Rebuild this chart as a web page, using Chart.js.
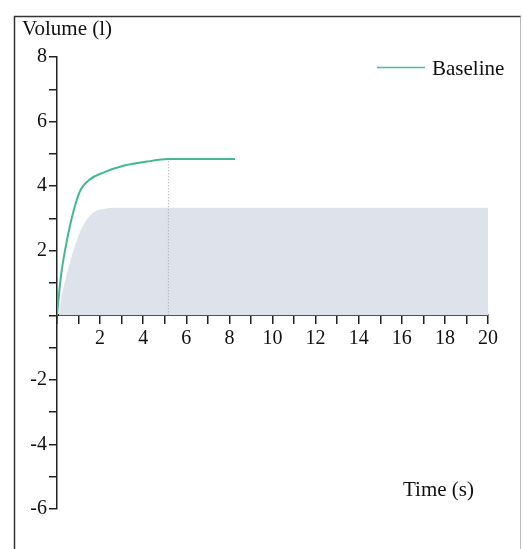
<!DOCTYPE html>
<html>
<head>
<meta charset="utf-8">
<script src="https://cdn.jsdelivr.net/npm/chart.js@4.4.1/dist/chart.umd.min.js"></script>
<style>
  html, body { margin: 0; padding: 0; background: #fff; }
  #wrap { width: 523px; height: 549px; }
</style>
</head>
<body>
<div id="wrap"><canvas id="myChart" width="523" height="549"></canvas></div>
<script>
// Baseline volume curve
const baselineTime = [0, 0.1, 0.2, 0.37, 0.68, 1.07, 1.53, 2.15, 3.08, 4.16, 5.17, 6.5, 8.26];
const baselineVolume = [0, 0.7, 1.3, 2.0, 3.0, 3.85, 4.21, 4.42, 4.63, 4.76, 4.84, 4.84, 4.84];

// Shaded band
const bandTime = [0, 0.08, 0.2, 0.37, 0.76, 1.15, 1.69, 2.3, 2.8, 20];
const bandVolume = [0, 0, 0.55, 1.05, 2.0, 2.7, 3.18, 3.31, 3.33, 3.33];

// Dotted marker where the curve levels off
const markerTime = [5.17, 5.17];
const markerVolume = [0, 4.84];

const xTicks = [2, 4, 6, 8, 10, 12, 14, 16, 18, 20];
const yTicks = [-6, -4, -2, 2, 4, 6, 8];

const serif = "'Liberation Serif', 'DejaVu Serif', serif";

function toPoints(xs, ys) {
  let pts = [];
  for (let i = 0; i < xs.length; i++) {
    pts.push({ x: xs[i], y: ys[i] });
  }
  return pts;
}

// frame, titles and legend
const extras = {
  id: "extras",
  afterDraw(chart) {
    const ctx = chart.ctx;
    ctx.save();
    ctx.strokeStyle = "#333";
    ctx.lineWidth = 1.5;
    ctx.beginPath();
    ctx.moveTo(14.5, 549);
    ctx.lineTo(14.5, 16.5);
    ctx.lineTo(521, 16.5);
    ctx.stroke();
    ctx.strokeStyle = "#bbb";
    ctx.lineWidth = 1;
    ctx.beginPath();
    ctx.moveTo(520.5, 16.5);
    ctx.lineTo(520.5, 549);
    ctx.stroke();

    ctx.fillStyle = "#111";
    ctx.font = "21px " + serif;
    ctx.textBaseline = "alphabetic";
    ctx.textAlign = "left";
    ctx.fillText("Volume (l)", 22, 35);
    ctx.fillText("Time (s)", 403, 496);
    ctx.fillText("Baseline", 432, 75);

    ctx.strokeStyle = "#45bfa6";
    ctx.lineWidth = 1.5;
    ctx.beginPath();
    ctx.moveTo(377, 67.5);
    ctx.lineTo(425, 67.5);
    ctx.stroke();
    ctx.restore();
  },
};

const ctx = document.getElementById("myChart");

new Chart(ctx, {
  type: "line",
  data: {
    datasets: [
      {
        label: "Baseline",
        data: toPoints(baselineTime, baselineVolume),
        borderColor: "#43b98f",
        borderWidth: 2,
        pointRadius: 0,
        cubicInterpolationMode: "monotone",
        fill: false,
        order: 1,
      },
      {
        label: "marker",
        data: toPoints(markerTime, markerVolume),
        borderColor: "#9ea4b0",
        borderWidth: 1,
        borderDash: [1, 2],
        pointRadius: 0,
        fill: false,
        order: 2,
      },
      {
        label: "band",
        data: toPoints(bandTime, bandVolume),
        borderWidth: 0,
        borderColor: "rgba(0,0,0,0)",
        backgroundColor: "#dee2eb",
        pointRadius: 0,
        cubicInterpolationMode: "monotone",
        fill: "origin",
        order: 3,
      },
    ],
  },
  options: {
    responsive: false,
    animation: false,
    events: [],
    layout: {
      padding: { top: 57, bottom: 40, left: 15, right: 35 },
    },
    plugins: {
      legend: { display: false },
      tooltip: { enabled: false },
    },
    scales: {
      x: {
        type: "linear",
        position: { y: 0 },
        min: 0,
        max: 20,
        border: { color: "#222", width: 2 },
        grid: {
          drawOnChartArea: false,
          drawTicks: true,
          tickLength: 8,
          color: "#222",
          lineWidth: 1.5,
        },
        ticks: {
          stepSize: 1,
          autoSkip: false,
          maxRotation: 0,
          padding: 3,
          color: "#111",
          font: { family: serif, size: 20 },
          callback: (v) => (xTicks.includes(v) ? String(v) : ""),
        },
      },
      y: {
        type: "linear",
        position: "left",
        min: -6,
        max: 8,
        afterFit(scale) {
          scale.width = 42;
        },
        border: { color: "#222", width: 1.5 },
        grid: {
          drawOnChartArea: false,
          drawTicks: true,
          tickLength: 8,
          color: "#222",
          lineWidth: 1.5,
        },
        ticks: {
          stepSize: 1,
          autoSkip: false,
          padding: 2,
          color: "#111",
          font: { family: serif, size: 20 },
          callback: (v) => (yTicks.includes(v) ? String(v) : ""),
        },
      },
    },
  },
  plugins: [extras],
});
</script>
</body>
</html>
